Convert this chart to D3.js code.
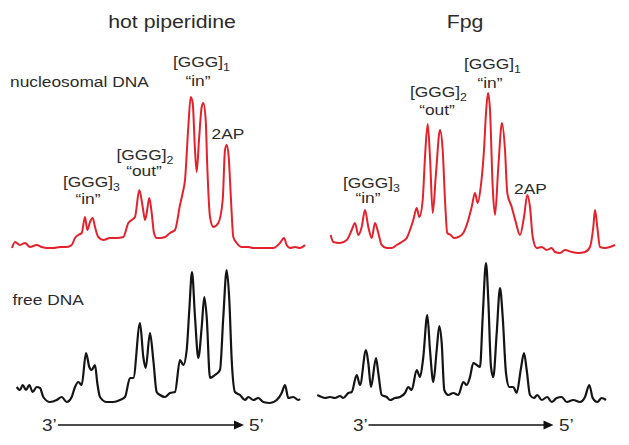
<!DOCTYPE html>
<html>
<head>
<meta charset="utf-8">
<script src="https://cdn.jsdelivr.net/npm/d3@7"></script>
<style>
  body { margin: 0; background: #fff; }
  text { font-family: "Liberation Sans", Arial, sans-serif; fill: #2b2b2b; }
</style>
</head>
<body>
<div id="chart"></div>
<script>
// traces: [position along gel lane, signal]
var hotNucleosomal = [
  [2,7],[5,13],[10,10],[15,12],[20,8],[26.7,10],[31.7,8],[36.7,7],[43.3,7],[50,8],[56.7,8],[61.7,10],
  [65,17],[68.3,20],[71.7,22],[75,38],[77.3,25],[80,33],[82.7,37],[85,28],[88.3,18],[93.3,15],
  [100,17],[106.7,17],[113.3,18],[118.3,32],[121.7,35],[125,38],[129.3,65],[132.7,48],[135,35],
  [136.7,42],[139.3,57],[141.7,42],[144,22],[146.7,17],[150,17],[155,18],[160,22],[165,25],
  [170,50],[172.7,62],[175,75],[178.3,128],[180.7,158],[182.7,152],[185,105],[186.7,83],[189,115],
  [191.7,148],[193.3,152],[195.7,135],[197.3,88],[200,38],[203.3,28],[208.3,32],[212.7,55],
  [215,105],[216.7,110],[218.7,98],[221,55],[223.3,18],[226.7,12],[231.7,8],[238.3,8],[243.3,7],
  [250,7],[256.7,7],[263.3,7],[270,12],[274,17],[276.7,10],[280,7],[285,8],[290,7],[295,10]
];
var hotFree = [
  [6.7,18],[10,15],[12.7,20],[16,15],[19.3,20],[22.7,13],[26.7,18],[30,17],[33.3,8],[40,3],
  [46.7,5],[51.7,8],[56.7,3],[61.7,8],[65,18],[68.3,23],[71.7,20],[76,52],[79.3,38],[81.7,35],
  [85,40],[87.3,22],[90,8],[96.7,3],[103.3,3],[110,5],[115,8],[120,27],[123.3,27],[130,82],
  [133.3,48],[135.7,37],[140,72],[143.3,45],[146.7,13],[150,10],[155,8],[160,12],[165,13],
  [170,45],[173.3,40],[176.7,55],[179.3,95],[182,133],[185,88],[188.3,47],[191.7,78],[194.3,108],
  [196.7,88],[200,27],[205,30],[210,35],[213.3,88],[216.7,135],[219.3,105],[221.7,45],[225,13],
  [230,10],[235,5],[238.3,8],[243.3,5],[248.3,7],[253.3,3],[260,2],[266.7,5],[271.7,12],[275,20],
  [278.3,7],[283.3,8],[288.3,5],[290,6]
];
var fpgNucleosomal = [
  [15.7,20],[18.3,13],[25,12],[31.7,15],[36.7,25],[40,32],[43.3,20],[46.7,28],[50,45],[53.3,28],
  [56.7,17],[60,32],[63.3,22],[66.7,10],[71.7,7],[76.7,7],[81.7,10],[86.7,13],[91.7,17],[95,25],
  [98.3,35],[101.7,47],[104.3,38],[107.7,55],[110,98],[112.7,131],[115,98],[117.7,42],[121,82],
  [125,125],[127.7,105],[130,55],[132.3,22],[135.7,20],[139,17],[143.3,18],[148.3,22],[153.3,35],
  [156.7,48],[160,62],[162.7,52],[165.7,68],[169,105],[171,142],[173,162],[175,145],[177.7,68],
  [180,40],[183.3,88],[187,132],[190,105],[192.3,62],[196.7,48],[201,32],[205,20],[209,38],
  [212.3,60],[215,48],[217.7,18],[221.7,7],[226.7,8],[231.7,5],[236.7,7],[240,3],[245,2],[250,5],
  [256.7,3],[263.3,2],[270,3],[275,8],[278.3,28],[280,45],[282.3,28],[285,8],[290,7],[295,8],[300,10]
];
var fpgFree = [
  [2.3,10],[6.7,8],[10,7],[15,8],[20,7],[25,9],[28.3,7],[33.3,12],[36.7,13],[41.7,30],[45,20],
  [51,55],[53.3,42],[56,18],[61,47],[63.3,32],[66.7,10],[71.7,8],[75,5],[80,7],[85,8],[90,12],
  [93.3,18],[96.7,15],[101.7,35],[105,28],[108.3,48],[112.3,90],[115,55],[118.3,23],[121.7,55],
  [124.3,79],[126.7,62],[129.3,15],[133.3,10],[138.3,12],[143.3,10],[148.3,23],[151.7,20],[155,28],
  [158.3,42],[161.7,40],[165,38],[167.7,88],[171,142],[173.3,105],[176,38],[178.3,28],[181.7,72],
  [185,117],[187.7,88],[191,32],[194.3,18],[198.3,18],[201.7,12],[205.7,35],[209,52],[211.7,35],
  [215,10],[219,7],[222.3,10],[226.7,5],[232.3,8],[236.7,3],[241.7,7],[246.7,8],[251.7,3],
  [258.3,5],[265,3],[270,8],[274.3,20],[277.7,7],[282.3,3],[286.7,7],[291,5]
];

var treatments = ["hot piperidine", "Fpg"];
var samples = ["nucleosomal DNA", "free DNA"];
var sampleColors = ["#e3222c", "#141414"];

// peak labels per treatment: name, subscript, conformation
var hotPeakLabels = [["[GGG]", "3", "\u201Cin\u201D"], ["[GGG]", "2", "\u201Cout\u201D"], ["[GGG]", "1", "\u201Cin\u201D"], ["2AP", "", ""]];
var fpgPeakLabels = [["[GGG]", "3", "\u201Cin\u201D"], ["[GGG]", "2", "\u201Cout\u201D"], ["[GGG]", "1", "\u201Cin\u201D"], ["2AP", "", ""]];
var endLabels = ["3\u2019", "5\u2019"];

// layout
var width = 629, height = 445;
var colLeft = [10, 315];
var rowBase = [255, 405];
var stretch = 1.12;

var svg = d3.select('#chart')
  .append('svg')
  .attr('width', width)
  .attr('height', height);

var yScales = rowBase.map(function(b) {
  return d3.scaleLinear().domain([0, 160]).range([b, b - 160]);
});
var xScales = colLeft.map(function(l) {
  return d3.scaleLinear().domain([0, 300]).range([l, l + 300]);
});

var traces = [[hotNucleosomal, fpgNucleosomal], [hotFree, fpgFree]];

traces.forEach(function(row, r) {
  row.forEach(function(data, c) {
    var line = d3.line()
      .x(function(d) { return xScales[c](d[0]); })
      .y(function(d) { return yScales[r](d[1]); })
      .curve(d3.curveMonotoneX);
    svg.append('path')
      .datum(data)
      .attr('d', line)
      .attr('fill', 'none')
      .attr('stroke', sampleColors[r])
      .attr('stroke-width', r === 0 ? 2 : 2.2)
      .attr('stroke-linejoin', 'round');
  });
});

function label(x, y, str, size, anchor) {
  return svg.append('text')
    .attr('transform', 'translate(' + x + ',' + y + ') scale(' + stretch + ',1)')
    .attr('text-anchor', anchor || 'start')
    .style('font-size', size + 'px')
    .text(str);
}

// titles
label(172, 28, treatments[0], 19, 'middle');
label(465, 28, treatments[1], 19, 'middle');
label(10, 87, samples[0], 15.5);
label(12.5, 305, samples[1], 15.5);

// peak labels: [left x of name, name baseline, centre x of note, note baseline]
var hotLabelPos = [[63, 187, 88, 204], [116.5, 159.5, 144, 175.5], [173, 67, 198, 86], [228, 138.5]];
var fpgLabelPos = [[343, 187.5, 368, 203], [410, 97, 437, 115], [464, 68.5, 490, 87.5], [530.5, 193.5]];

function peakLabels(labels, pos) {
  labels.forEach(function(l, i) {
    var p = pos[i];
    if (l[1] === "") {
      label(p[0], p[1], l[0], 15.5, 'middle');
      return;
    }
    var t = label(p[0], p[1], l[0], 15.5, 'start');
    t.append('tspan').attr('dy', 4).style('font-size', '11px').text(l[1]);
    label(p[2], p[3], l[2], 15.5, 'middle');
  });
}
peakLabels(hotPeakLabels, hotLabelPos);
peakLabels(fpgPeakLabels, fpgLabelPos);

// direction arrows
var arrowY = 425;
[[42, 58, 244, 249], [353, 368.5, 553.5, 559]].forEach(function(a) {
  label(a[0], arrowY + 6, endLabels[0], 17);
  svg.append('line')
    .attr('x1', a[1]).attr('x2', a[2] - 8)
    .attr('y1', arrowY).attr('y2', arrowY)
    .attr('stroke', '#111').attr('stroke-width', 1.5);
  svg.append('path')
    .attr('d', 'M' + (a[2] - 10) + ',' + (arrowY - 4.5) + 'L' + a[2] + ',' + arrowY + 'L' + (a[2] - 10) + ',' + (arrowY + 4.5) + 'Z')
    .attr('fill', '#111');
  label(a[3], arrowY + 6, endLabels[1], 17);
});
</script>
</body>
</html>
